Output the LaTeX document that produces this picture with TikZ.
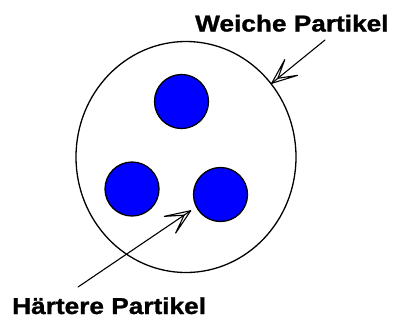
\documentclass[tikz,border=0pt]{standalone}
\usepackage{fontspec}
\newfontfamily\lblfont[FakeStretch=1.14,FakeBold=1.2]{Liberation Sans}
\usetikzlibrary{calc,shapes.geometric}
\begin{document}
\begin{tikzpicture}[x=1pt,y=-1pt,
  outline/.style={draw=black,line width=1.3pt},
  particle/.style={circle,outline,fill=blue,minimum size=54pt,inner sep=0pt},
  pointer/.style={draw=black,line width=1.1pt,line join=round,line cap=round},
  lbl/.style={font=\lblfont\bfseries\fontsize{23pt}{23pt}\selectfont,inner sep=0pt}]
\useasboundingbox (0,0) rectangle (395,322);
\node[ellipse,outline,minimum width=220pt,minimum height=231pt,inner sep=0pt] (soft) at (186,157) {};
\node[particle] (p1) at (181.5,101.5) {};
\node[particle] (p2) at (132,189) {};
\node[particle] (p3) at (220.5,194.5) {};
\node[lbl,anchor=base west] (wlabel) at (195,31.5) {Weiche Partikel};
\node[lbl,anchor=base west] (hlabel) at (12,314) {Härtere Partikel};
\coordinate (wstart) at (325,40);
\coordinate (wtip) at (271.7,83.3);
\coordinate (hstart) at (78,287);
\coordinate (htip) at (190.7,210.7);
\draw[pointer] (wstart) -- (wtip);
\draw[pointer] (hstart) -- (htip);
\foreach \s/\t in {wstart/wtip,hstart/htip}{
  \draw[pointer] ($(\t)!27pt!22:(\s)$) -- (\t) -- ($(\t)!27pt!-22:(\s)$)
    ($(\t)!27pt!22:(\s)$) -- ($(\t)!8pt!(\s)$) -- ($(\t)!27pt!-22:(\s)$);
}
\end{tikzpicture}
\end{document}
